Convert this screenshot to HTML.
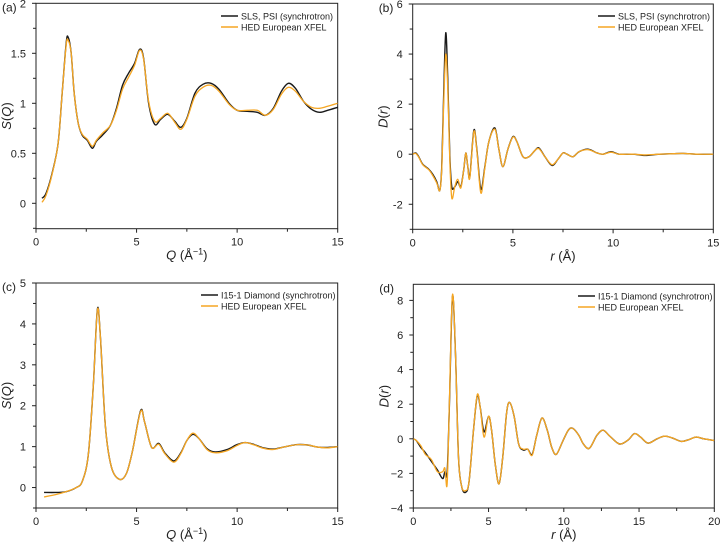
<!DOCTYPE html>
<html><head><meta charset="utf-8">
<style>
body{margin:0;background:#fff;}
svg{display:block;font-family:"Liberation Sans",Arial,sans-serif;}
</style></head>
<body>
<svg id="fig" width="720" height="543" viewBox="0 0 720 543"></svg>
<script>
// ---------- DATA ----------
const aBlackX=[0.3,0.5,0.8,1.1,1.3,1.5,1.6,1.75,1.9,2.1,2.3,2.55,2.8,3.0,3.3,3.7,4.0,4.3,4.6,4.9,5.15,5.35,5.6,5.9,6.2,6.55,6.9,7.2,7.5,7.9,8.3,8.7,9.1,9.6,10.0,10.5,11.0,11.4,11.8,12.2,12.55,12.9,13.3,13.7,14.1,14.5,15];
const aBlackY=[0.05,0.1,0.3,0.6,1.1,1.6,1.66,1.5,1.1,0.8,0.68,0.63,0.55,0.62,0.68,0.78,0.95,1.18,1.3,1.4,1.54,1.45,1.0,0.79,0.84,0.89,0.82,0.76,0.85,1.1,1.19,1.2,1.14,1.0,0.93,0.92,0.91,0.88,0.95,1.12,1.2,1.15,1.02,0.94,0.91,0.93,0.96];
const aOrangeY=[0.01,0.08,0.29,0.6,1.1,1.58,1.63,1.5,1.1,0.8,0.69,0.64,0.57,0.63,0.7,0.78,0.93,1.14,1.26,1.38,1.53,1.44,1.02,0.82,0.85,0.9,0.81,0.74,0.84,1.07,1.16,1.18,1.12,0.99,0.93,0.93,0.93,0.88,0.94,1.09,1.16,1.12,1.02,0.96,0.95,0.97,1.0];

const bBlackX=[0,0.15,0.3,0.5,0.8,1.0,1.2,1.35,1.45,1.55,1.65,1.75,1.85,1.95,2.1,2.25,2.4,2.55,2.65,2.75,2.85,3.05,3.2,3.4,3.6,3.8,4.1,4.3,4.5,4.75,5.0,5.2,5.5,5.8,6.1,6.3,6.6,6.95,7.25,7.5,7.7,8.0,8.3,8.75,9.2,9.5,9.9,10.3,11.0,11.6,12.3,13.0,13.5,14.2,15];
const bBlackY=[0,0.05,-0.1,-0.4,-0.6,-0.8,-1.1,-1.45,-0.5,2.5,4.85,3.0,0.0,-1.3,-1.3,-1.1,-1.3,-0.6,0.05,-0.5,-0.9,0.95,0.2,-1.4,-0.5,0.5,1.05,0.2,-0.5,0.2,0.7,0.5,-0.1,-0.1,0.15,0.25,-0.1,-0.45,-0.2,0.05,0.0,-0.1,0.1,0.2,0.05,0.0,0.1,0.0,0.0,-0.05,0.0,0.02,0.03,0.0,0.0];
const bOrangeY=[0,0.03,-0.12,-0.42,-0.62,-0.85,-1.15,-1.45,-0.6,2.1,4.0,2.6,-0.2,-1.75,-1.3,-1.0,-1.35,-0.6,0.05,-0.5,-0.95,0.9,0.15,-1.55,-0.55,0.5,1.0,0.2,-0.5,0.2,0.68,0.5,-0.1,-0.1,0.15,0.22,-0.1,-0.42,-0.2,0.05,0.0,-0.1,0.1,0.18,0.05,0.0,0.08,0.0,0.0,-0.03,0.0,0.02,0.03,0.0,0.0];

const cBlackX=[0.4,1.0,1.5,2.0,2.3,2.6,2.85,3.05,3.2,3.45,3.75,4.15,4.5,4.8,5.2,5.4,5.75,6.1,6.4,6.85,7.2,7.5,7.8,8.1,8.5,8.9,9.5,10.0,10.4,10.8,11.3,11.8,12.4,13.0,13.5,14.0,14.5,15];
const cBlackY=[-0.12,-0.12,-0.1,0.0,0.15,0.8,2.5,4.35,3.7,1.5,0.5,0.2,0.35,0.9,1.88,1.6,0.98,1.08,0.85,0.65,0.85,1.15,1.3,1.2,0.95,0.87,0.93,1.05,1.1,1.06,0.97,0.94,1.0,1.05,1.04,0.99,0.98,1.0];
const cOrangeY=[-0.23,-0.17,-0.1,0.0,0.15,0.8,2.5,4.33,3.7,1.5,0.5,0.2,0.35,0.9,1.86,1.6,0.98,1.06,0.83,0.62,0.83,1.15,1.33,1.2,0.93,0.85,0.9,1.03,1.1,1.05,0.96,0.93,1.0,1.05,1.04,0.99,0.97,1.0];

const dBlackX=[0,0.2,0.5,0.8,1.2,1.6,1.95,2.1,2.25,2.4,2.6,2.8,3.0,3.2,3.45,3.7,4.0,4.25,4.45,4.7,5.0,5.2,5.45,5.7,5.95,6.2,6.4,6.7,7.0,7.3,7.6,7.9,8.2,8.55,8.9,9.2,9.5,9.9,10.3,10.6,11.0,11.3,11.7,12.2,12.6,13.0,13.5,13.8,14.3,14.7,15.1,15.6,16.2,16.7,17.2,17.8,18.3,18.8,19.3,20];
const dBlackY=[0,-0.1,-0.5,-0.8,-1.3,-1.8,-2.3,-1.9,-1.95,2.0,8.2,5.0,-1.0,-2.7,-3.1,-2.5,0.5,2.5,1.8,0.4,1.3,0.5,-1.5,-2.6,-1.0,1.5,2.1,1.3,-0.3,-0.65,-0.6,-0.9,0.2,1.2,0.5,-0.5,-0.9,-0.2,0.5,0.6,0.2,-0.3,-0.55,0.2,0.5,0.2,-0.2,-0.3,-0.05,0.3,0.1,-0.25,0.0,0.15,0.05,-0.15,-0.05,0.1,0.0,-0.1];
const dOrangeY=[0,-0.1,-0.4,-0.9,-1.2,-1.9,-1.9,-1.7,-2.6,2.2,8.3,5.0,-1.0,-2.7,-3.0,-2.5,0.5,2.55,1.8,0.1,1.3,0.5,-1.5,-2.6,-1.0,1.5,2.1,1.3,-0.3,-0.6,-0.6,-0.95,0.2,1.2,0.5,-0.5,-0.9,-0.2,0.5,0.6,0.2,-0.3,-0.55,0.2,0.5,0.2,-0.2,-0.3,-0.05,0.3,0.1,-0.25,0.0,0.15,0.05,-0.15,-0.05,0.1,0.0,-0.1];

const aYTicks=[0,0.5,1,1.5,2], aYLabels=["0","0.5","1","1.5","2"];
const bYTicks=[-2,0,2,4,6], bYLabels=["-2","0","2","4","6"];
const cYTicks=[0,1,2,3,4,5], cYLabels=["0","1","2","3","4","5"];
const dYTicks=[-4,-2,0,2,4,6,8], dYLabels=["\u22124","\u22122","0","2","4","6","8"];
const qXTicks=[0,5,10,15], qXLabels=["0","5","10","15"];
const dXTicks=[0,5,10,15,20], dXLabels=["0","5","10","15","20"];

// ---------- DRAWING ----------
const NS="http://www.w3.org/2000/svg";
const svg=document.getElementById('fig');
function mk(tag,attrs,parent){const e=document.createElementNS(NS,tag);for(const k in attrs)e.setAttribute(k,attrs[k]);(parent||svg).appendChild(e);return e;}
function txt(s,attrs,parent){const e=mk('text',attrs,parent);e.innerHTML=s;return e;}

function smooth(pts){
  let d="M"+pts[0][0].toFixed(2)+","+pts[0][1].toFixed(2);
  for(let i=0;i<pts.length-1;i++){
    const p0=pts[Math.max(0,i-1)],p1=pts[i],p2=pts[i+1],p3=pts[Math.min(pts.length-1,i+2)];
    const c1x=p1[0]+(p2[0]-p0[0])/6,c1y=p1[1]+(p2[1]-p0[1])/6;
    const c2x=p2[0]-(p3[0]-p1[0])/6,c2y=p2[1]-(p3[1]-p1[1])/6;
    d+=" C"+c1x.toFixed(2)+","+c1y.toFixed(2)+" "+c2x.toFixed(2)+","+c2y.toFixed(2)+" "+p2[0].toFixed(2)+","+p2[1].toFixed(2);
  }
  return d;
}

function panel(o){
  const g=mk('g',{});
  
  
  const sx=v=>o.x0+(v-o.xmin)/(o.xmax-o.xmin)*(o.x1-o.x0);
  const sy=v=>o.y1-(v-o.ymin)/(o.ymax-o.ymin)*(o.y1-o.y0);
  const frame=mk('rect',{x:o.x0,y:o.y0,width:o.x1-o.x0,height:o.y1-o.y0,fill:'none',stroke:'#222','stroke-width':1},g);
  
  
  const step=o.xTicks[1]-o.xTicks[0];
  for(let v=o.xmin;v<=o.xmax+1e-9;v+=step/2){
    const major=o.xTicks.some(t=>Math.abs(t-v)<1e-9);
    mk('line',{x1:sx(v),x2:sx(v),y1:o.y1,y2:o.y1+(major?4:3),stroke:'#222','stroke-width':1},g);
  }
  o.xTicks.forEach((t,i)=>{const e=txt(o.xLabels[i],{x:sx(t),y:o.y1+17,'font-size':11,'text-anchor':'middle',fill:'#222'},g);
    });
  const ystep=o.yTicks[1]-o.yTicks[0];
  for(let v=o.yTicks[0]-ystep;v<=o.ymax+1e-9;v+=ystep/2){
    if(v<o.ymin-1e-9)continue;
    const major=o.yTicks.some(t=>Math.abs(t-v)<1e-9);
    mk('line',{x1:o.x0-(major?4:3),x2:o.x0,y1:sy(v),y2:sy(v),stroke:'#222','stroke-width':1},g);
  }
  o.yTicks.forEach((t,i)=>{const e=txt(o.yLabels[i],{x:o.x0-10,y:sy(t)+4,'font-size':11,'text-anchor':'end',fill:'#222'},g);
    });
  const clipId='clip'+o.id;
  const cp=mk('clipPath',{id:clipId},g);mk('rect',{x:o.x0,y:o.y0,width:o.x1-o.x0,height:o.y1-o.y0},cp);
  const pb=mk('path',{d:smooth(o.bx.map((x,i)=>[sx(x),sy(o.by[i])])),fill:'none',stroke:'#1a1a1a','stroke-width':1.4,'clip-path':'url(#'+clipId+')'},g);
  
  const po=mk('path',{d:smooth(o.bx.map((x,i)=>[sx(x),sy(o.oy[i])])),fill:'none',stroke:'#f5a623','stroke-width':1.3,'clip-path':'url(#'+clipId+')'},g);
  
  const lg=mk('g',{},g);
  mk('line',{x1:o.lx,x2:o.lx+17,y1:o.ly,y2:o.ly,stroke:'#1a1a1a','stroke-width':1.4},lg);
  txt(o.leg1,{x:o.lx+20,y:o.ly+3.5,'font-size':9,fill:'#222'},lg);
  mk('line',{x1:o.lx,x2:o.lx+17,y1:o.ly+11,y2:o.ly+11,stroke:'#f5a623','stroke-width':1.4},lg);
  txt('HED European XFEL',{x:o.lx+20,y:o.ly+14.5,'font-size':9,fill:'#222'},lg);
  const pl=txt('('+o.id+')',{x:o.x0-34,y:o.y0+8,'font-size':12,fill:'#222'},g);
  
  const xl=txt(o.xTitle,{x:(o.x0+o.x1)/2,y:o.y1+31,'font-size':13,'text-anchor':'middle',fill:'#222'},g);
  
  const cy=(o.y0+o.y1)/2;
  const yl=txt(o.yTitle,{x:o.x0-25,y:cy,'font-size':13,'text-anchor':'middle',fill:'#222',transform:'rotate(-90 '+(o.x0-25)+' '+cy+')'},g);
  
}

const QT='<tspan font-style="italic">Q</tspan> (Å<tspan baseline-shift="super" font-size="9">−1</tspan>)';
const RT='<tspan font-style="italic">r</tspan> (Å)';
const ST='<tspan font-style="italic">S</tspan>(<tspan font-style="italic">Q</tspan>)';
const DT='<tspan font-style="italic">D</tspan>(<tspan font-style="italic">r</tspan>)';

panel({id:'a',x0:36,x1:337.7,y0:3.3,y1:228.7,xmin:0,xmax:15,ymin:-0.254,ymax:2,xTicks:qXTicks,xLabels:qXLabels,yTicks:aYTicks,yLabels:aYLabels,bx:aBlackX,by:aBlackY,oy:aOrangeY,lx:221,ly:16,leg1:'SLS, PSI (synchrotron)',xTitle:QT,yTitle:ST});
panel({id:'b',x0:412.7,x1:713.3,y0:4,y1:229.3,xmin:0,xmax:15,ymin:-3,ymax:6,xTicks:qXTicks,xLabels:qXLabels,yTicks:bYTicks,yLabels:bYLabels,bx:bBlackX,by:bBlackY,oy:bOrangeY,lx:598,ly:16,leg1:'SLS, PSI (synchrotron)',xTitle:RT,yTitle:DT});
panel({id:'c',x0:36,x1:337.7,y0:283,y1:508,xmin:0,xmax:15,ymin:-0.5,ymax:5,xTicks:qXTicks,xLabels:qXLabels,yTicks:cYTicks,yLabels:cYLabels,bx:cBlackX,by:cBlackY,oy:cOrangeY,lx:201,ly:295,leg1:'I15-1 Diamond (synchrotron)',xTitle:QT,yTitle:ST});
panel({id:'d',x0:413.3,x1:714.3,y0:284.3,y1:508,xmin:0,xmax:20,ymin:-4,ymax:8.93,xTicks:dXTicks,xLabels:dXLabels,yTicks:dYTicks,yLabels:dYLabels,bx:dBlackX,by:dBlackY,oy:dOrangeY,lx:578,ly:296,leg1:'I15-1 Diamond (synchrotron)',xTitle:RT,yTitle:DT});
</script>
</body></html>
